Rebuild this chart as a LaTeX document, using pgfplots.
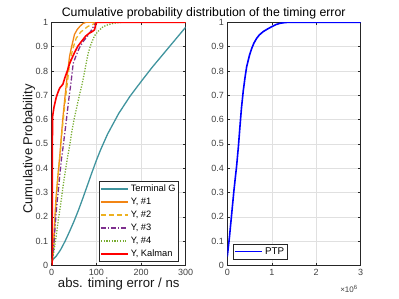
\documentclass[border=0pt]{standalone}
\usepackage{fontspec}
\setmainfont{Liberation Sans}
\usepackage{pgfplots}
\pgfplotsset{compat=1.18}
\definecolor{cTeal}{rgb}{0.25,0.58,0.62}
\definecolor{cOrange}{rgb}{0.95,0.52,0.08}
\definecolor{cYellow}{rgb}{0.929,0.694,0.125}
\definecolor{cPurple}{rgb}{0.494,0.184,0.556}
\definecolor{cGreen}{rgb}{0.466,0.674,0.188}
\definecolor{cBlue}{rgb}{0,0,1}
\definecolor{spine}{rgb}{0.15,0.15,0.15}
\pgfplotsset{
  mystyle/.style={
    scale only axis,
    ymin=0, ymax=1,
    ytick={0,0.1,0.2,0.3,0.4,0.5,0.6,0.7,0.8,0.9,1},
    yticklabels={0,0.1,0.2,0.3,0.4,0.5,0.6,0.7,0.8,0.9,1},
    grid=major,
    grid style={draw=black!12, line width=0.5pt},
    axis line style={draw=spine, line width=0.5pt},
    tick style={draw=spine, line width=0.5pt},
    major tick length=2.5pt,
    tick align=inside,
    tick pos=both,
    ticklabel style={font=\fontsize{9}{10}\selectfont, text=black!75},
    legend style={draw=spine, fill=white, line width=0.5pt,
      font=\fontsize{9.3}{11}\selectfont,
      nodes={text height=7pt, text depth=2pt, inner sep=2pt},
      row sep=0pt, inner xsep=1pt, inner ysep=1pt},
    legend cell align=left,
    legend image code/.code={\draw[#1] (0pt,0pt) -- (27pt,0pt);},
  }
}
\begin{document}
\begin{tikzpicture}
\path[use as bounding box] (0pt,0pt) rectangle (399pt,299pt);
\begin{axis}[mystyle,
  at={(51.7pt,33.5pt)}, anchor=south west,
  width=134pt, height=243.2pt,
  xmin=0, xmax=300,
  xtick={0,100,200,300}, xticklabels={0,100,200,300},
  legend style={at={(axis description cs:0.95,0.016)}, anchor=south east},
]
\addplot[cTeal, line width=1.3pt] coordinates {
(0,0.02) (10,0.038) (20,0.065) (30,0.1) (40,0.14) (50,0.182) (60,0.228) (70,0.278) (80,0.33) (90,0.382) (100,0.432) (110,0.478) (125,0.54) (150,0.625) (175,0.695) (200,0.756) (225,0.815) (250,0.87) (275,0.925) (300,0.98)};
\addplot[cOrange, line width=1.3pt] coordinates {
(1,0.01) (3,0.05) (6,0.15) (9,0.26) (12,0.33) (14,0.37) (17,0.43) (19,0.47) (22,0.54) (25,0.605) (29,0.68) (33,0.75) (36,0.8) (40,0.86) (44,0.895) (51,0.95) (57,0.97) (63,0.983) (70,0.995) (77,1) (300,1)};
\addplot[cYellow, line width=1.3pt, dash pattern=on 5pt off 3pt] coordinates {
(1,0.01) (3,0.05) (6,0.14) (9,0.24) (12,0.32) (15,0.38) (19,0.46) (23,0.55) (27,0.62) (31,0.69) (35,0.75) (40,0.83) (47,0.89) (55,0.935) (65,0.96) (81,0.983) (95,0.994) (110,1) (300,1)};
\addplot[cPurple, line width=1.3pt, dash pattern=on 5pt off 2pt on 1.2pt off 2pt] coordinates {
(1,0.01) (4,0.06) (8,0.17) (12,0.26) (15,0.31) (18,0.37) (22,0.44) (25,0.48) (29,0.54) (33,0.6) (38,0.68) (42,0.735) (45,0.78) (48,0.83) (55,0.865) (62,0.895) (70,0.92) (81,0.945) (88,0.965) (96,0.99) (100,1) (300,1)};
\addplot[cGreen, line width=1.3pt, dash pattern=on 1.2pt off 1.5pt] coordinates {
(1,0.02) (5,0.06) (10,0.12) (15,0.19) (20,0.25) (25,0.32) (29,0.37) (35,0.44) (40,0.49) (45,0.55) (50,0.6) (56,0.65) (62,0.7) (68,0.745) (74,0.8) (77,0.83) (82,0.875) (88,0.91) (96,0.945) (104,0.963) (115,0.982) (126,0.99) (141,0.997) (160,1) (300,1)};
\addplot[red, line width=1.6pt] coordinates {
(1,0) (1.3,0.3) (1.8,0.61) (5,0.65) (10,0.69) (14,0.712) (18,0.73) (25,0.745) (30,0.775) (35,0.8) (40,0.83) (46,0.855) (51,0.875) (58,0.9) (66,0.92) (76,0.943) (84,0.955) (92,0.963) (96,0.97) (98.5,0.99) (100,1) (300,1)};
\legend{Terminal G, {Y, \#1}, {Y, \#2}, {Y, \#3}, {Y, \#4}, {Y, Kalman}}
\end{axis}
\begin{axis}[mystyle,
  at={(227.3pt,33.5pt)}, anchor=south west,
  width=133.4pt, height=243.2pt,
  xmin=0, xmax=3,
  xtick={0,1,2,3}, xticklabels={0,1,2,3},
  legend style={at={(axis description cs:0.045,0.0255)}, anchor=south west},
]
\addlegendimage{cBlue, line width=1.6pt}
\addlegendentry{{\fontsize{9.8}{11}\selectfont PTP}}
\addplot[cBlue, line width=1.6pt, forget plot] coordinates {
(0,0.037) (0.05,0.12) (0.1,0.215) (0.15,0.31) (0.21,0.41) (0.25,0.49) (0.286,0.575) (0.32,0.65) (0.36,0.72) (0.4,0.775) (0.436,0.818) (0.5,0.865) (0.55,0.893) (0.6,0.915) (0.66,0.934) (0.72,0.948) (0.81,0.962) (0.9,0.972) (1.0,0.982) (1.1,0.991) (1.19,0.996) (1.3,0.999) (1.4,1) (3,1)};
\end{axis}
\node[font=\fontsize{12.3}{14}\selectfont, text=black] at (203.7pt,286pt) {Cumulative probability distribution of the timing error};
\node[font=\fontsize{13.2}{15}\selectfont, anchor=base, text=black!90] at (118.7pt,11.5pt) {abs. timing error / ns};
\node[font=\fontsize{13}{15}\selectfont, rotate=90, text=black!90] at (29pt,150pt) {Cumulative Probability};
\node[font=\fontsize{8}{9}\selectfont, text=black!75] at (349pt,10pt) {×10\textsuperscript{6}};
\end{tikzpicture}
\end{document}
